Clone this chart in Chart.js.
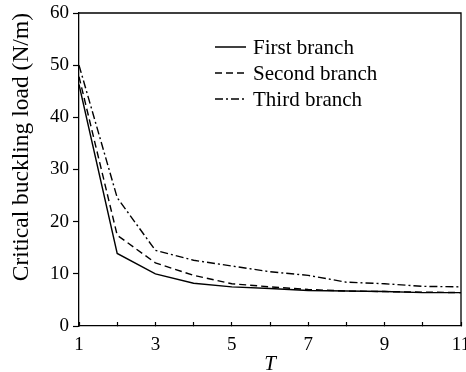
<!DOCTYPE html>
<html>
<head>
<meta charset="utf-8">
<script src="https://cdn.jsdelivr.net/npm/chart.js@4/dist/chart.umd.min.js"></script>
<style>
  html, body { margin: 0; padding: 0; background: #fff; }
  #wrap { width: 466px; height: 372px; position: relative; }
</style>
</head>
<body>
<div id="wrap"><canvas id="myChart"></canvas></div>
<script>
// values
const tValues = [1, 2, 3, 4, 5, 6, 7, 8, 9, 10, 11];
const firstBranch  = [46.3, 13.9, 10.0, 8.2, 7.5, 7.2, 6.8, 6.7, 6.6, 6.4, 6.4];
const secondBranch = [47.8, 17.4, 12.1, 9.7, 8.1, 7.5, 7.0, 6.7, 6.6, 6.5, 6.4];
const thirdBranch  = [50.0, 24.6, 14.5, 12.6, 11.5, 10.4, 9.7, 8.4, 8.1, 7.6, 7.5];
const seriesLabels = ['First branch', 'Second branch', 'Third branch'];
const xTickLabels = [1, 3, 5, 7, 9, 11];
const yMin = 0, yMax = 60, yStep = 10;

const serif = 'Liberation Serif';

const toPoints = (ys) => ys.map((y, i) => ({ x: tValues[i], y: y }));

// legend drawn inside the plot, with line samples
const innerLegend = {
  id: 'innerLegend',
  afterDraw(chart) {
    const ctx = chart.ctx;
    ctx.save();
    ctx.font = '21px "' + serif + '"';
    ctx.textBaseline = 'middle';
    ctx.fillStyle = '#000';
    chart.data.datasets.forEach((ds, i) => {
      const y = 47 + i * 26;
      ctx.beginPath();
      ctx.setLineDash(ds.borderDash || []);
      ctx.lineWidth = 1.5;
      ctx.strokeStyle = '#000';
      ctx.moveTo(215, y);
      ctx.lineTo(246, y);
      ctx.stroke();
      ctx.setLineDash([]);
      ctx.fillText(ds.label, 253, y + 1);
    });
    ctx.restore();
  }
};

// top and right edges of the frame
const frame = {
  id: 'frame',
  afterDraw(chart) {
    const { ctx, chartArea: a } = chart;
    ctx.save();
    ctx.strokeStyle = '#000';
    ctx.lineWidth = 1.3;
    ctx.beginPath();
    ctx.moveTo(a.left, a.top);
    ctx.lineTo(a.right, a.top);
    ctx.lineTo(a.right, a.bottom);
    ctx.stroke();
    ctx.restore();
  }
};

const ctx = document.getElementById('myChart');
new Chart(ctx, {
  type: 'line',
  data: {
    datasets: [
      { label: seriesLabels[0], data: toPoints(firstBranch), borderDash: [] },
      { label: seriesLabels[1], data: toPoints(secondBranch), borderDash: [7, 4] },
      { label: seriesLabels[2], data: toPoints(thirdBranch), borderDash: [8, 3, 2, 3] }
    ].map(ds => Object.assign(ds, {
      borderColor: '#000',
      borderWidth: 1.4,
      pointRadius: 0,
      tension: 0,
      fill: false
    }))
  },
  options: {
    responsive: true,
    maintainAspectRatio: false,
    animation: false,
    layout: { padding: { top: 13, right: 5, left: 0, bottom: 0 } },
    plugins: {
      legend: { display: false },
      tooltip: { enabled: false }
    },
    scales: {
      x: {
        type: 'linear',
        min: tValues[0],
        max: tValues[tValues.length - 1],
        afterBuildTicks(scale) {
          scale.ticks = tValues.map(v => ({ value: v }));
        },
        afterFit(scale) {
          scale.height = 46;
          scale.paddingLeft = 0;
          scale.paddingRight = 0;
        },
        ticks: {
          autoSkip: false,
          maxRotation: 0,
          color: '#000',
          font: { family: serif, size: 19 },
          padding: 12,
          callback: (v) => xTickLabels.includes(v) ? String(v) : ''
        },
        grid: { drawOnChartArea: false, tickLength: -4, tickColor: '#000', tickWidth: 1.2 },
        border: { color: '#000', width: 1.3 },
        title: {
          display: true,
          text: 'T',
          color: '#000',
          font: { family: serif, size: 21, style: 'italic', lineHeight: 1 },
          padding: { top: 0, bottom: -3 }
        }
      },
      y: {
        min: yMin,
        max: yMax,
        afterFit(scale) {
          scale.width = 79;
          scale.paddingTop = 0;
          scale.paddingBottom = 0;
        },
        ticks: {
          stepSize: yStep,
          color: '#000',
          font: { family: serif, size: 19 },
          padding: 4
        },
        grid: { drawOnChartArea: false, tickLength: 6, tickColor: '#000', tickWidth: 1.2 },
        border: { color: '#000', width: 1.3 },
        title: {
          display: true,
          text: 'Critical buckling load (N/m)',
          align: 'end',
          color: '#000',
          font: { family: serif, size: 23.5 },
          padding: { top: 8, bottom: 0 }
        }
      }
    }
  },
  plugins: [innerLegend, frame]
});
</script>
</body>
</html>
